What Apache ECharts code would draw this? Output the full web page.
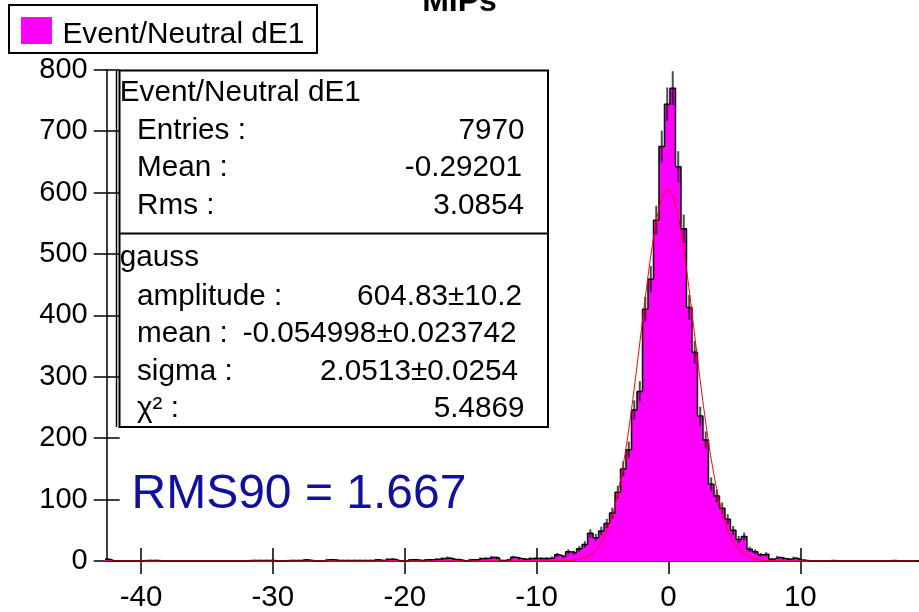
<!DOCTYPE html>
<html>
<head>
<meta charset="utf-8">
<script src="https://cdn.jsdelivr.net/npm/echarts@6/dist/echarts.min.js"></script>
<style>
  html, body { margin: 0; padding: 0; background: #ffffff; }
  #chart { width: 919px; height: 612px; }
</style>
</head>
<body>
<div id="chart"></div>
<script>
// ---- histogram: 150 equal bins starting at histMin ----
const histMin = -42.8;
const binWidth = 62.5 / 150;
const binCounts = [
  3, 0, 0, 0, 0, 0, 0, 1, 1, 1,
  0, 0, 0, 0, 0, 0, 0, 0, 0, 0,
  0, 0, 0, 0, 0, 0, 1, 1, 1, 1,
  1, 0, 0, 1, 1, 1, 2, 1, 0, 0,
  2, 2, 1, 1, 1, 1, 1, 1, 1, 2,
  1, 3, 3, 0, 0, 2, 2, 1, 2, 2,
  3, 4, 5, 3, 2, 0, 2, 2, 4, 4,
  6, 5, 1, 2, 6, 4, 3, 4, 4, 4,
  4, 5, 10, 7, 15, 13, 20, 27, 45, 38,
  49, 61, 78, 112, 150, 181, 246, 276, 410, 459,
  555, 675, 744, 770, 642, 541, 413, 340, 236, 197,
  125, 106, 86, 68, 50, 35, 40, 19, 15, 10,
  11, 3, 6, 4, 3, 5, 2, 1, 0, 0,
  0, 0, 1, 0, 0, 0, 0, 0, 0, 0,
  0, 0, 0, 1, 0, 0, 0, 0, 0, 0
];

// ---- gaussian fit result ----
const fitAmplitude = 604.83;
const fitMean = -0.054998;
const fitSigma = 2.0513;

// ---- axes ----
const xRange = [-42.6, 19.0];
const xTickValues = [-40, -30, -20, -10, 0, 10];
const yRange = [0, 800];
const yTickStep = 100;

// ---- statistics box text ----
const histName = 'Event/Neutral dE1';
const statLabels = ['Entries :', 'Mean :', 'Rms :'];
const statValues = ['7970', '-0.29201', '3.0854'];
const fitName = 'gauss';
const fitLabels = ['amplitude :', 'mean :', 'sigma :', 'χ² :'];
const fitValues = ['604.83±10.2', '-0.054998±0.023742', '2.0513±0.0254', '5.4869'];
const rmsText = 'RMS90 = 1.667';
const titleText = 'MIPs';

// step outline points at the bin edges
const stepPoints = binCounts.map((c, i) => [histMin + i * binWidth, c]);
stepPoints.push([histMin + binCounts.length * binWidth, binCounts[binCounts.length - 1]]);

// poisson error bars at the bin centres
const errorBars = [];
binCounts.forEach((c, i) => {
  if (c > 0) {
    const e = Math.sqrt(c);
    errorBars.push([histMin + (i + 0.5) * binWidth, c - e, c + e]);
  }
});

// fitted gaussian evaluated across the axis
const fitCurve = [];
for (let x = xRange[0]; x <= xRange[1] + 1e-9; x += 0.05) {
  const z = (x - fitMean) / fitSigma;
  fitCurve.push([x, fitAmplitude * Math.exp(-0.5 * z * z)]);
}

const FONT = '"Liberation Sans", Arial, sans-serif';

// plot rectangle
const W = 919, H = 612;
const G = { left: 106.7, right: 0, top: 69.8, bottom: 51 };

function label(str, x, baseline, size, align, color) {
  return {
    type: 'text',
    x: x,
    y: baseline - 0.3465 * size,
    z: 100,
    style: {
      text: str,
      x: 0, y: 0,
      font: size + 'px ' + FONT,
      fill: color || '#000',
      align: align, textAlign: align,
      verticalAlign: 'middle', textVerticalAlign: 'middle'
    }
  };
}

const graphics = [];
// legend box
graphics.push({ type: 'rect', z: 100, shape: { x: 9, y: 5, width: 308, height: 48 },
  style: { fill: '#fff', stroke: '#000', lineWidth: 2 } });
graphics.push({ type: 'rect', z: 101, shape: { x: 21, y: 17, width: 31, height: 27 },
  style: { fill: '#ff00ff' } });
graphics.push(label(histName, 62.5, 45, 29.8, 'left'));

// statistics box
graphics.push({ type: 'rect', z: 99, shape: { x: 119.5, y: 70.5, width: 428.5, height: 356.5 },
  style: { fill: '#fff', stroke: '#000', lineWidth: 2 } });
graphics.push({ type: 'line', z: 99, shape: { x1: 116.5, y1: 70, x2: 116.5, y2: 427 },
  style: { stroke: '#000', lineWidth: 1.5 } });
graphics.push({ type: 'line', z: 99, shape: { x1: 119.5, y1: 233.5, x2: 548, y2: 233.5 },
  style: { stroke: '#000', lineWidth: 2 } });

const FS = 29.7;
const rowPitch = 37.3;
graphics.push(label(histName, 119.8, 103.3, FS, 'left'));
const statRight = [524.5, 522, 524];
statLabels.forEach((s, i) => {
  const b = 141 + i * rowPitch;
  graphics.push(label(s, 137, b, FS, 'left'));
  graphics.push(label(statValues[i], statRight[i], b, FS, 'right'));
});
graphics.push(label(fitName, 119.8, 268.5, FS, 'left'));
const fitRight = [522, 516.5, 518, 524.5];
fitLabels.forEach((s, i) => {
  const b = 307 + i * rowPitch;
  graphics.push(label(s, 137, b, FS, 'left'));
  graphics.push(label(fitValues[i], fitRight[i], b, FS, 'right'));
});

// RMS90 annotation
graphics.push(label(rmsText, 131.5, 511, 48, 'left', '#10109e'));

const axisBlack = { color: '#000', width: 1.5 };

// the second x / y axes are moved onto the first ones (via offset) and only
// contribute the inner half of the crossing tick marks
const innerXOffset = -(H - G.top - G.bottom);
const innerYOffset = -(W - G.left - G.right);

const option = {
  animation: false,
  backgroundColor: '#fff',
  title: {
    text: titleText, left: 'center', top: -19,
    textStyle: { fontFamily: FONT, fontSize: 32, fontWeight: 'bold', color: '#000' }
  },
  grid: { left: G.left, right: G.right, top: G.top, bottom: G.bottom, outerBoundsMode: 'none', containLabel: false },
  xAxis: [
    {
      type: 'value', min: xRange[0], max: xRange[1], position: 'bottom',
      axisLine: { show: true, onZero: false, lineStyle: axisBlack },
      axisTick: { show: true, length: 13, customValues: xTickValues, lineStyle: axisBlack },
      axisLabel: { show: true, customValues: xTickValues, margin: 22, fontFamily: FONT, fontSize: 29.5, color: '#000' },
      splitLine: { show: false }
    },
    {
      type: 'value', min: xRange[0], max: xRange[1], position: 'top', offset: innerXOffset,
      axisLine: { show: false, onZero: false },
      axisTick: { show: true, inside: false, length: 13, customValues: xTickValues, lineStyle: axisBlack },
      axisLabel: { show: false },
      splitLine: { show: false }
    }
  ],
  yAxis: [
    {
      type: 'value', min: yRange[0], max: yRange[1], interval: yTickStep, position: 'left',
      axisLine: { show: true, onZero: false, lineStyle: axisBlack },
      axisTick: { show: true, length: 13, lineStyle: axisBlack },
      axisLabel: { show: true, margin: 19, fontFamily: FONT, fontSize: 29, color: '#000' },
      splitLine: { show: false }
    },
    {
      type: 'value', min: yRange[0], max: yRange[1], interval: yTickStep, position: 'right', offset: innerYOffset,
      axisLine: { show: false, onZero: false },
      axisTick: { show: true, inside: false, length: 13, lineStyle: axisBlack },
      axisLabel: { show: false },
      splitLine: { show: false }
    }
  ],
  series: [
    {
      name: histName,
      type: 'line',
      step: 'end',
      data: stepPoints,
      symbol: 'none',
      clip: false,
      lineStyle: { color: '#000', width: 1.5 },
      areaStyle: { color: '#ff00ff', opacity: 1 },
      z: 2
    },
    {
      name: 'errors',
      type: 'custom',
      data: errorBars,
      clip: false,
      encode: { x: 0, y: [1, 2] },
      renderItem: function (params, api) {
        const lo = api.coord([api.value(0), api.value(1)]);
        const hi = api.coord([api.value(0), api.value(2)]);
        return {
          type: 'line',
          shape: { x1: lo[0], y1: lo[1], x2: hi[0], y2: hi[1] },
          style: { stroke: 'rgba(0,0,0,0.7)', lineWidth: 2 }
        };
      },
      z: 3
    },
    {
      name: fitName,
      type: 'line',
      data: fitCurve,
      symbol: 'none',
      lineStyle: { color: '#ff0000', width: 1 },
      z: 4
    }
  ],
  graphic: graphics
};

const chart = echarts.init(document.getElementById('chart'), null, { renderer: 'canvas' });
chart.setOption(option);
</script>
</body>
</html>
